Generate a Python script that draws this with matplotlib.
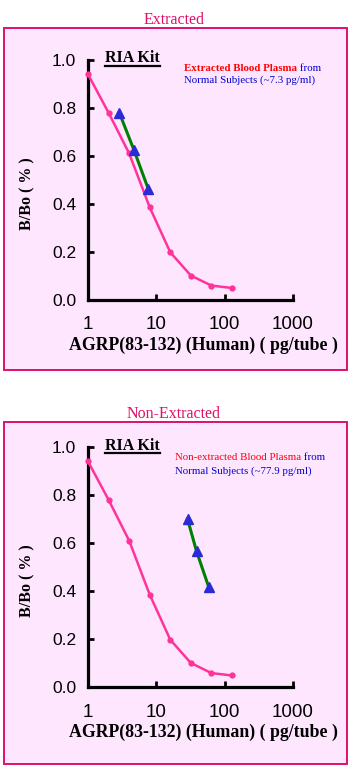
import matplotlib
matplotlib.use('Agg')
import matplotlib.pyplot as plt
from matplotlib.patches import Rectangle
from matplotlib.lines import Line2D
from matplotlib.ticker import NullLocator

W, H = 348, 766

# standard curve (pg/tube vs B/Bo)
std_dose = [1, 2, 4, 8, 16, 32, 64, 128]
std_bbo = [0.94, 0.78, 0.61, 0.385, 0.197, 0.10, 0.058, 0.048]

# plasma dilutions
ext_dose = [2.87, 4.69, 7.66]
ext_bbo = [0.78, 0.625, 0.46]
nonext_dose = [28.6, 38.8, 58.7]
nonext_bbo = [0.70, 0.565, 0.415]

x_ticks = [1, 10, 100, 1000]
x_ticklabels = ['1', '10', '100', '1000']
y_ticks = [0.0, 0.2, 0.4, 0.6, 0.8, 1.0]

SERIF = 'Liberation Serif'
SANS = 'Liberation Sans'
PINK = '#FF3399'
CRIMSON = '#E0106A'
PANEL_BG = '#FFE6FF'
RED = '#FF0000'
BLUE = '#0000CC'


def px(x, y):
    return x / W, 1 - y / H


fig = plt.figure(figsize=(W / 100, H / 100), dpi=100)
fig.patch.set_facecolor('white')


def draw_panel(title, box_top, box_bottom, ax_top, ax_bottom, dose, bbo,
               sample_label, sample_weight, conc, leg_x, leg_y1, leg_y2):
    # pink frame behind the chart
    fig.add_artist(Rectangle(px(3.5, box_bottom), 343 / W, (box_bottom - box_top) / H,
                             transform=fig.transFigure, facecolor=PANEL_BG,
                             edgecolor=CRIMSON, lw=1.4, zorder=-1))
    fig.text(*px(174, box_top - 3.5), title, ha='center', va='baseline',
             family=SERIF, size=11.5, color=CRIMSON)

    ax = fig.add_axes([88 / W, 1 - ax_bottom / H, 205 / W, (ax_bottom - ax_top) / H])
    ax.set_facecolor('none')
    ax.set_xscale('log')
    ax.set_xlim(1, 1000)
    ax.set_ylim(0, 1.0)

    ax.plot(std_dose, std_bbo, color=PINK, lw=1.8, marker='o', ms=3.5,
            clip_on=False, zorder=3)
    ax.plot(dose, bbo, color='#008000', lw=2.2, zorder=4)
    ax.plot(dose, bbo, ls='none', marker='^', ms=7, color='#2A2AD6', zorder=5)

    for s in ('top', 'right'):
        ax.spines[s].set_visible(False)
    for s in ('left', 'bottom'):
        ax.spines[s].set_linewidth(2.3)

    ax.set_xticks(x_ticks)
    ax.set_xticklabels(x_ticklabels)
    ax.xaxis.set_minor_locator(NullLocator())
    ax.set_yticks(y_ticks)
    ax.set_yticklabels([f'{v:.1f}' for v in y_ticks])
    ax.tick_params(direction='in', length=4, width=2)
    ax.tick_params(axis='x', pad=12, labelsize=13.5)
    ax.tick_params(axis='y', pad=8.5, labelsize=12.5)
    for lab in ax.get_xticklabels() + ax.get_yticklabels():
        lab.set_family(SANS)

    fig.text(*px(203, ax_bottom + 50), 'AGRP(83-132) (Human) ( pg/tube )',
             ha='center', va='baseline', family=SERIF, weight='bold', size=12.8)
    fig.text(*px(27, ax_top + 134), 'B/Bo ( % )', rotation=90, ha='center',
             va='center', family=SERIF, weight='bold', size=11.5)

    kit = fig.text(*px(105, ax_top + 2.5), 'RIA Kit', ha='left', va='baseline',
                   family=SERIF, weight='bold', size=11.5)

    t1 = fig.text(*px(leg_x, leg_y1), sample_label, ha='left', va='baseline',
                  family=SERIF, weight=sample_weight, size=7.8, color=RED)
    ax.annotate(' from', xy=(1, 0), xycoords=t1, va='bottom', ha='left',
                family=SERIF, size=7.8, color=BLUE, annotation_clip=False)
    fig.text(*px(leg_x, leg_y2), f'Normal Subjects ({conc} pg/ml)', ha='left',
             va='baseline', family=SERIF, size=7.8, color=BLUE)
    return kit


kits = [
    draw_panel('Extracted', 27.5, 370, 60, 299.5, ext_dose, ext_bbo,
               'Extracted Blood Plasma', 'bold', '~7.3', 184, 71, 82.5),
    draw_panel('Non-Extracted', 422, 764, 447, 687, nonext_dose, nonext_bbo,
               'Non-extracted Blood Plasma', 'normal', '~77.9', 175, 460, 473.5),
]

# underline the kit labels
fig.canvas.draw()
inv = fig.transFigure.inverted()
for kit in kits:
    bb = kit.get_window_extent()
    x0, y0 = inv.transform((bb.x0, bb.y0 + 1))
    x1, _ = inv.transform((bb.x1, bb.y0 + 1))
    fig.add_artist(Line2D([x0, x1], [y0, y0], transform=fig.transFigure,
                          color='black', lw=1.6))

fig.savefig('out.png', dpi=100)
